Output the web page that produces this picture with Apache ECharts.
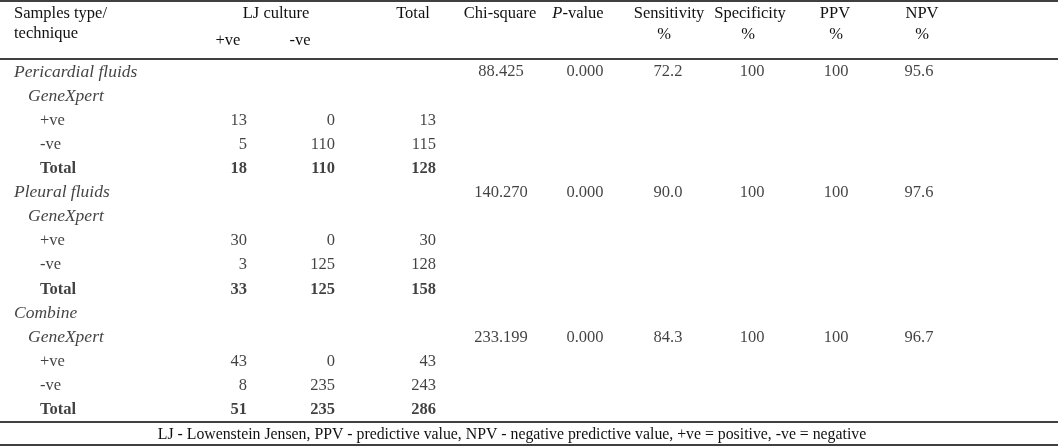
<!DOCTYPE html>
<html>
<head>
<meta charset="utf-8">
<script src="https://cdn.jsdelivr.net/npm/echarts@6/dist/echarts.min.js"></script>
<style>html,body{margin:0;padding:0;background:#fff}#c{width:1058px;height:446px}</style>
</head>
<body>
<div id="c"></div>
<script>
// ---------- DATA ----------
const ROW_LABELS = ['Pericardial fluids','GeneXpert','+ve','-ve','Total',
                    'Pleural fluids','GeneXpert','+ve','-ve','Total',
                    'Combine','GeneXpert','+ve','-ve','Total'];
const ROW_KIND = ['group','method','item','item','total',
                  'group','method','item','item','total',
                  'group','method','item','item','total'];
const LJ_POS = [null,null,13,5,18, null,null,30,3,33, null,null,43,8,51];
const LJ_NEG = [null,null,0,110,110, null,null,0,125,125, null,null,0,235,235];
const TOTAL  = [null,null,13,115,128, null,null,30,128,158, null,null,43,243,286];
const STAT_ROWS   = [0, 5, 11];
const CHI_SQUARE  = [88.425, 140.270, 233.199];
const P_VALUE     = [0.000, 0.000, 0.000];
const SENSITIVITY = [72.2, 90.0, 84.3];
const SPECIFICITY = [100, 100, 100];
const PPV         = [100, 100, 100];
const NPV         = [95.6, 97.6, 96.7];
const FOOTNOTE = 'LJ - Lowenstein Jensen, PPV - predictive value, NPV - negative predictive value, +ve = positive, -ve = negative';

// ---------- LAYOUT / STYLE ----------
const FONT = 'Liberation Serif';
const FS = 16.5;
const FS_IT = 17.5;
const INK = '#111111';
const LABEL_X = {group: 14, method: 28, item: 40, total: 40};
const COLS = [
  {vals: LJ_POS, x: 247, align: 'right', dec: 0, rows: null},
  {vals: LJ_NEG, x: 335, align: 'right', dec: 0, rows: null},
  {vals: TOTAL,  x: 436, align: 'right', dec: 0, rows: null},
  {vals: CHI_SQUARE,  x: 501, align: 'center', dec: 3, rows: STAT_ROWS},
  {vals: P_VALUE,     x: 585, align: 'center', dec: 3, rows: STAT_ROWS},
  {vals: SENSITIVITY, x: 668, align: 'center', dec: 1, rows: STAT_ROWS},
  {vals: SPECIFICITY, x: 752, align: 'center', dec: 0, rows: STAT_ROWS},
  {vals: PPV,         x: 836, align: 'center', dec: 0, rows: STAT_ROWS},
  {vals: NPV,         x: 919, align: 'center', dec: 1, rows: STAT_ROWS}
];

const series = [];
// row label column
series.push({
  type: 'scatter', symbolSize: 1, itemStyle: {color: 'rgba(0,0,0,0)'}, silent: true,
  data: ROW_LABELS.map((t, i) => {
    const k = ROW_KIND[i];
    const it = (k === 'group' || k === 'method');
    return {
      value: [LABEL_X[k], i, t],
      label: {
        fontStyle: it ? 'italic' : 'normal',
        fontSize: it ? FS_IT : FS,
        fontWeight: k === 'total' ? 'bold' : 'normal'
      }
    };
  }),
  label: {show: true, position: 'inside', align: 'left', verticalAlign: 'middle',
          fontFamily: FONT, fontSize: FS, color: INK, formatter: p => p.value[2]}
});
COLS.forEach(col => {
  const data = [];
  col.vals.forEach((v, j) => {
    if (v === null) return;
    const r = col.rows ? col.rows[j] : j;
    data.push({value: [col.x, r, v],
               label: {fontWeight: ROW_KIND[r] === 'total' ? 'bold' : 'normal'}});
  });
  series.push({
    type: 'scatter', symbolSize: 1, itemStyle: {color: 'rgba(0,0,0,0)'}, silent: true,
    data,
    label: {show: true, position: 'inside', align: col.align, verticalAlign: 'middle',
            fontFamily: FONT, fontSize: FS, color: INK,
            formatter: p => Number(p.value[2]).toFixed(col.dec)}
  });
});

function txt(text, x, y, align, size) {
  return {type: 'text', x, y, silent: true,
    style: {text, fill: INK, font: (size || FS) + 'px "' + FONT + '"',
      textAlign: align || 'center', textVerticalAlign: 'middle'}};
}
function hline(y, w) {
  return {type: 'line', silent: true, shape: {x1: 0, y1: y, x2: 1058, y2: y},
          style: {stroke: '#000', lineWidth: w || 1.3}};
}
const graphics = [
  hline(1), hline(59), hline(422), hline(445),
  txt('Samples type/', 14, 14, 'left'),
  txt('technique', 14, 34, 'left'),
  txt('LJ culture', 276, 14),
  txt('+ve', 228, 41),
  txt('-ve', 300, 41),
  txt('Total', 413, 14),
  txt('Chi-square', 500, 14),
  {type: 'text', x: 578, y: 14, silent: true,
   style: {text: '{i|P}{n|-value}', fill: INK, font: FS + 'px "' + FONT + '"', textAlign: 'center', textVerticalAlign: 'middle',
           rich: {i: {fontStyle: 'italic', fontFamily: FONT, fontSize: FS, fill: INK},
                  n: {fontFamily: FONT, fontSize: FS, fill: INK}}}},
  txt('Sensitivity', 669, 14), txt('%', 664, 35),
  txt('Specificity', 750, 14), txt('%', 748, 35),
  txt('PPV', 835, 14), txt('%', 836, 35),
  txt('NPV', 922, 14), txt('%', 922, 35),
  txt(FOOTNOTE, 512, 435, 'center', 15.8)
];

const chart = echarts.init(document.getElementById('c'), null, {renderer: 'canvas'});
chart.setOption({
  animation: false,
  grid: {left: 0, right: 0, top: 60, bottom: 24},
  xAxis: {type: 'value', min: 0, max: 1058, show: false},
  yAxis: {type: 'category', inverse: true, data: ROW_LABELS.map((_, i) => i), show: false},
  series,
  graphic: graphics
});
</script>
</body>
</html>
